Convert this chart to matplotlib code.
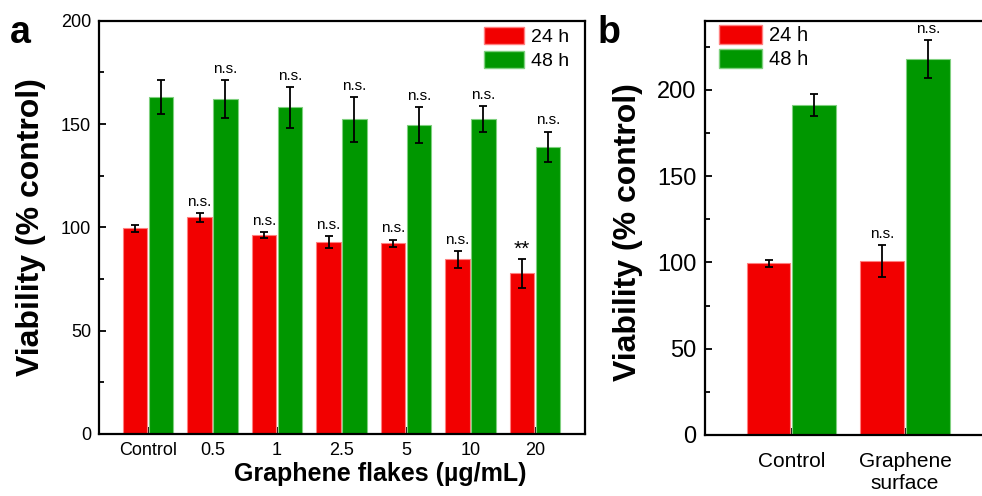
import matplotlib
matplotlib.use("Agg")
import matplotlib.pyplot as plt
from matplotlib.patches import Patch
from matplotlib.ticker import MultipleLocator
import numpy as np

plt.rcParams['font.family'] = ['Liberation Sans', 'DejaVu Sans']

# ---- data: panel a ----
conc_labels = ['Control', '0.5', '1', '2.5', '5', '10', '20']
via24 = [99.5, 104.8, 96.3, 92.7, 92.4, 84.5, 77.8]
err24 = [1.7, 2.3, 1.5, 2.9, 1.7, 4.2, 7.0]
via48 = [163.0, 162.2, 158.1, 152.2, 149.5, 152.5, 139.0]
err48 = [8.2, 9.2, 9.8, 11.0, 8.7, 6.3, 7.3]
sig24 = ['', 'n.s.', 'n.s.', 'n.s.', 'n.s.', 'n.s.', '**']
sig48 = ['', 'n.s.', 'n.s.', 'n.s.', 'n.s.', 'n.s.', 'n.s.']

# ---- data: panel b ----
surf_labels = ['Control', 'Graphene\nsurface']
surf24 = [99.4, 100.8]
surf24_err = [2.2, 9.4]
surf48 = [191.3, 217.8]
surf48_err = [6.5, 10.9]
surf_sig24 = ['', 'n.s.']
surf_sig48 = ['', 'n.s.']

series_names = ['24 h', '48 h']
RED = '#F20000'
GREEN = '#009700'
RED_EDGE = '#FF8080'
GREEN_EDGE = '#7FD07F'

fig = plt.figure(figsize=(9.82, 4.96), dpi=100)
axA = fig.add_axes([0.1011, 0.125, 0.4943, 0.8333])
axB = fig.add_axes([0.7179, 0.123, 0.2916, 0.8353])

ekw = dict(ecolor='black', elinewidth=1.3, capsize=3.2, capthick=1.3)


def draw_panel(ax, labels, v24, e24, v48, e48, s24, s48, width, off):
    x = np.arange(1, len(labels) + 1)
    ax.bar(x - off, v24, width, color=RED, edgecolor=RED_EDGE, linewidth=0.8,
           yerr=e24, error_kw=ekw, zorder=2)
    ax.bar(x + off, v48, width, color=GREEN, edgecolor=GREEN_EDGE, linewidth=0.8,
           yerr=e48, error_kw=ekw, zorder=2)
    for xi, v, e, s in zip(x - off, v24, e24, s24):
        if s:
            if s == '**':
                ax.annotate(s, (xi, v + e), xytext=(0, 0), textcoords='offset points',
                            ha='center', va='bottom', fontsize=15)
            else:
                ax.annotate(s, (xi, v + e), xytext=(0, 3), textcoords='offset points',
                            ha='center', va='bottom', fontsize=11)
    for xi, v, e, s in zip(x + off, v48, e48, s48):
        if s:
            ax.annotate(s, (xi, v + e), xytext=(0, 3), textcoords='offset points',
                        ha='center', va='bottom', fontsize=11)
    ax.set_xticks(x)
    ax.set_xticklabels(labels)
    for sp in ax.spines.values():
        sp.set_linewidth(1.6)
    ax.yaxis.set_major_locator(MultipleLocator(50))
    ax.yaxis.set_minor_locator(MultipleLocator(25))
    ax.tick_params(axis='both', which='major', direction='in', length=5, width=1.3)
    ax.tick_params(axis='y', which='minor', direction='in', length=3.4, width=1.3)
    ax.tick_params(axis='x', which='minor', bottom=False)
    return x


# Panel a
draw_panel(axA, conc_labels, via24, err24, via48, err48, sig24, sig48, 0.38, 0.2)
axA.set_xlim(0.245, 7.77)
axA.set_ylim(0, 200)
axA.tick_params(axis='y', labelsize=13, pad=6)
axA.tick_params(axis='x', labelsize=13, pad=6)
axA.set_ylabel('Viability (% control)', fontsize=23, fontweight='bold')
axA.yaxis.set_label_coords(-0.110, 0.5)
axA.set_xlabel('Graphene flakes (µg/mL)', fontsize=18, fontweight='bold')
axA.xaxis.set_label_coords(0.578, -0.068)
hA = [Patch(facecolor=RED, edgecolor=RED_EDGE), Patch(facecolor=GREEN, edgecolor=GREEN_EDGE)]
axA.legend(hA, series_names, loc='upper left', bbox_to_anchor=(0.793, 0.985),
           frameon=False, fontsize=14, handlelength=2.06, handleheight=0.96,
           labelspacing=0.24, handletextpad=0.33, borderpad=0, borderaxespad=0)

# Panel b
draw_panel(axB, surf_labels, surf24, surf24_err, surf48, surf48_err,
           surf_sig24, surf_sig48, 0.385, 0.2)
axB.set_xlim(0.241, 2.759)
axB.set_ylim(0, 240)
axB.tick_params(axis='y', labelsize=17, pad=6)
axB.tick_params(axis='x', labelsize=15, pad=12)
axB.set_ylabel('Viability (% control)', fontsize=23, fontweight='bold')
axB.yaxis.set_label_coords(-0.2166, 0.491)
hB = [Patch(facecolor=RED, edgecolor=RED_EDGE), Patch(facecolor=GREEN, edgecolor=GREEN_EDGE)]
axB.legend(hB, series_names, loc='upper left', bbox_to_anchor=(0.049, 0.99),
           frameon=False, fontsize=14.5, handlelength=2.14, handleheight=1.05,
           labelspacing=0.2, handletextpad=0.33, borderpad=0, borderaxespad=0)

fig.text(10 / 982, (496 - 43) / 496, 'a', fontsize=27, fontweight='bold', va='baseline')
fig.text(598 / 982, (496 - 43) / 496, 'b', fontsize=27, fontweight='bold', va='baseline')

fig.savefig('out.png', dpi=100)
